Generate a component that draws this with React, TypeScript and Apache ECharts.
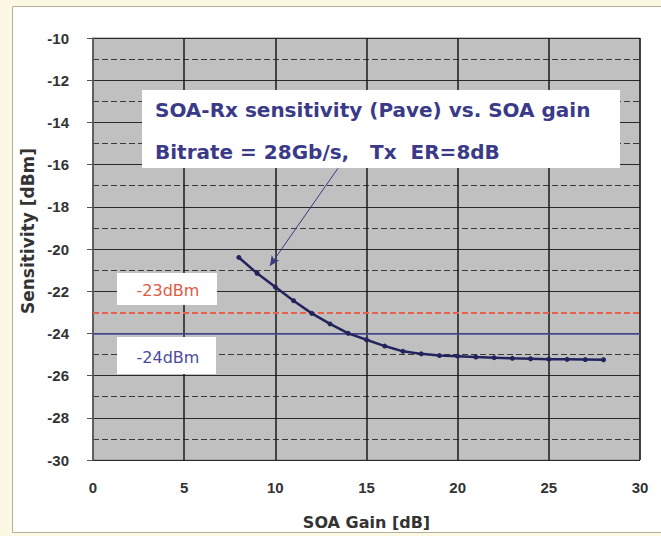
import React, { useEffect, useRef } from "react";
import * as echarts from "echarts";

const gains = [8, 9, 10, 11, 12, 13, 14, 15, 16, 17, 18, 19, 20, 21, 22, 23, 24, 25, 26, 27, 28];
const sensitivity = [
  -20.4, -21.15, -21.8, -22.45, -23.05, -23.55, -24.0, -24.3, -24.6, -24.85, -24.97,
  -25.05, -25.08, -25.12, -25.15, -25.18, -25.2, -25.22, -25.23, -25.24, -25.25,
];
const xTicks = [0, 5, 10, 15, 20, 25, 30];
const yTicks = [-30, -28, -26, -24, -22, -20, -18, -16, -14, -12, -10];
const redLevel = -23;
const blueLevel = -24;
const arrowFrom = [13.43, -16.18];
const arrowTo = [9.7, -20.8];
const titleLines = ["SOA-Rx sensitivity (Pave) vs. SOA gain", "Bitrate = 28Gb/s,   Tx  ER=8dB"];
const redLabel = "-23dBm";
const blueLabel = "-24dBm";
const xName = "SOA Gain [dB]";
const yName = "Sensitivity [dBm]";

export default function App() {
  const ref = useRef<HTMLDivElement>(null);
  useEffect(() => {
    document.body.style.margin = "0";
    const chart = echarts.init(ref.current!, null, { renderer: "svg" });
    const navy = "#3a3a88";
    const option: any = {
      animation: false,
      backgroundColor: "#fcf8e4",
      grid: {
        left: 93,
        right: 21,
        top: 38,
        bottom: 76,
        show: true,
        backgroundColor: "#c0c0c0",
        borderColor: "#8a8a8a",
        borderWidth: 1,
      },
      xAxis: {
        type: "value",
        min: xTicks[0],
        max: xTicks[xTicks.length - 1],
        interval: 5,
        name: xName,
        nameLocation: "middle",
        nameGap: 54,
        nameTextStyle: { fontFamily: "DejaVu Sans", fontSize: 16, fontWeight: "bold", color: "#333" },
        axisLine: { show: false },
        axisTick: { show: false },
        axisLabel: { margin: 20, fontFamily: "Liberation Sans", fontWeight: "bold", fontSize: 15, color: "#333" },
        splitLine: { show: true, lineStyle: { color: "#1a1a1a", width: 1.5 } },
      },
      yAxis: {
        type: "value",
        min: yTicks[0],
        max: yTicks[yTicks.length - 1],
        interval: 2,
        name: yName,
        nameLocation: "middle",
        nameGap: 57,
        nameTextStyle: { fontFamily: "DejaVu Sans", fontSize: 17, fontWeight: "bold", color: "#333", padding: [0, 0, 0, 36] },
        axisLine: { show: true, lineStyle: { color: "#6a6a6a", width: 1.5 } },
        axisTick: { show: true, length: 6, lineStyle: { color: "#555" } },
        axisLabel: { margin: 24, fontFamily: "Liberation Sans", fontWeight: "bold", fontSize: 15, color: "#333" },
        splitLine: { show: true, lineStyle: { color: "#2a2a2a", width: 1 } },
        minorTick: { show: false, splitNumber: 2 },
        minorSplitLine: { show: true, lineStyle: { color: "#3a3a3a", width: 1, type: [6, 3] } },
      },
      graphic: [
        { type: "rect", z: -1, silent: true, shape: { x: 12.5, y: 6.5, width: 660, height: 526 }, style: { fill: "#ffffff", stroke: "#b8b09c", lineWidth: 1 } },
        { type: "rect", z: 10, shape: { x: 142, y: 90, width: 478, height: 78 }, style: { fill: "#ffffff" } },
        { type: "text", z: 11, x: 155, y: 110, style: { text: titleLines[0], fontFamily: "DejaVu Sans", fontWeight: "bold", fontSize: 20, fill: navy, verticalAlign: "middle" } },
        { type: "text", z: 11, x: 155, y: 152, style: { text: titleLines[1], fontFamily: "DejaVu Sans", fontWeight: "bold", fontSize: 20, fill: navy, verticalAlign: "middle" } },
        { type: "rect", z: 10, shape: { x: 117, y: 273, width: 100, height: 32 }, style: { fill: "#ffffff" } },
        { type: "text", z: 11, x: 168, y: 290, style: { text: redLabel, fontFamily: "DejaVu Sans", fontSize: 16, fill: "#e05a44", align: "center", verticalAlign: "middle" } },
        { type: "rect", z: 10, shape: { x: 117, y: 337, width: 99, height: 37 }, style: { fill: "#ffffff" } },
        { type: "text", z: 11, x: 168, y: 357, style: { text: blueLabel, fontFamily: "DejaVu Sans", fontSize: 16, fill: "#4a4a9c", align: "center", verticalAlign: "middle" } },
      ],
      series: [
        {
          type: "line",
          data: gains.map((g, i) => [g, sensitivity[i]]),
          symbol: "circle",
          symbolSize: 5,
          z: 5,
          lineStyle: { color: "#23235e", width: 2.5 },
          itemStyle: { color: "#23235e" },
          markLine: {
            silent: true,
            symbol: ["none", "none"],
            label: { show: false },
            data: [
              { yAxis: redLevel, lineStyle: { color: "#e8604c", width: 2, type: [6, 3] } },
              { yAxis: blueLevel, lineStyle: { color: "#4d4da0", width: 1.5, type: "solid" } },
            ],
          },
        },
        {
          type: "line",
          data: [],
          markLine: {
            silent: true,
            symbol: ["none", "arrow"],
            symbolSize: [7, 10],
            label: { show: false },
            lineStyle: { color: "#3a3a80", width: 1, type: "solid" },
            data: [[{ coord: arrowFrom }, { coord: arrowTo }]],
          },
        },
      ],
    };
    chart.setOption(option);
    return () => chart.dispose();
  }, []);
  return <div ref={ref} style={{ position: "absolute", left: 0, top: 0, width: 661, height: 536 }} />;
}
